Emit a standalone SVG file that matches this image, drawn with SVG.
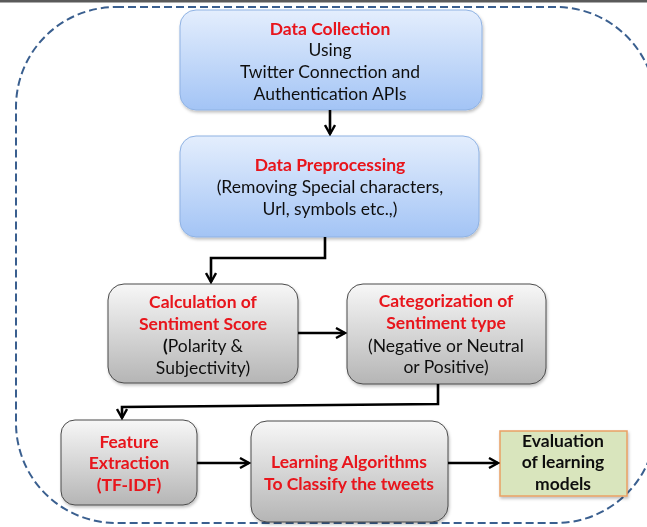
<svg xmlns="http://www.w3.org/2000/svg" width="647" height="527" viewBox="0 0 647 527">
<defs>
<linearGradient id="gBlue" x1="0" y1="0" x2="0" y2="1">
<stop offset="0" stop-color="#e4eefd"/>
<stop offset="1" stop-color="#a3c4f5"/>
</linearGradient>
<linearGradient id="gGray" x1="0" y1="0" x2="0" y2="1">
<stop offset="0" stop-color="#f7f7f7"/>
<stop offset="1" stop-color="#b5b5b5"/>
</linearGradient>
<marker id="arr" viewBox="0 0 12 12" refX="10.5" refY="6" markerWidth="12" markerHeight="12" markerUnits="userSpaceOnUse" orient="auto">
<path d="M1.5,1 L10.5,6 L1.5,11" fill="none" stroke="#000" stroke-width="2.4"/>
</marker>
<filter id="sh" x="-10%" y="-10%" width="130%" height="130%">
<feDropShadow dx="1" dy="2" stdDeviation="1.5" flood-color="#000" flood-opacity="0.25"/>
</filter>
</defs>
<style>
text{font-family:Lato,"Open Sans","Liberation Sans",sans-serif;font-size:17.5px;text-anchor:middle;fill:#111}
.r{fill:#e8121a;font-weight:bold}
.b{font-weight:bold}
.blue{fill:url(#gBlue);stroke:#8fb2e3;stroke-width:1}
.gray{fill:url(#gGray);stroke:#4a4a4a;stroke-width:1}
.green{fill:#d9e5bd;stroke:#e9a064;stroke-width:1.5}
.c{fill:none;stroke:#000;stroke-width:2.6;marker-end:url(#arr)}
</style>
<rect x="0" y="0" width="647" height="527" fill="#fff"/>
<rect x="0" y="0" width="647" height="2.5" fill="#5a5a5a"/>
<rect x="16" y="7" width="640" height="516" rx="100" ry="100" fill="none" stroke="#3a5f8f" stroke-width="2" stroke-dasharray="8,4"/>

<g id="n1" filter="url(#sh)">
<rect class="blue" x="180" y="10" width="302" height="100" rx="16"/>
<text class="r" x="330" y="35">Data Collection</text>
<text x="330" y="56">Using</text>
<text x="330" y="78">Twitter Connection and</text>
<text x="330" y="100">Authentication APIs</text>
</g>
<g id="n2" filter="url(#sh)">
<rect class="blue" x="180" y="136" width="299" height="101" rx="16"/>
<text class="r" x="330" y="171">Data Preprocessing</text>
<text x="330" y="193">(Removing Special characters,</text>
<text x="330" y="215">Url, symbols etc.,)</text>
</g>
<g id="n3" filter="url(#sh)">
<rect class="gray" x="108" y="284" width="190" height="99" rx="16"/>
<text class="r" x="203" y="308">Calculation of</text>
<text class="r" x="203" y="330">Sentiment Score</text>
<text x="203" y="352"><tspan class="b">(</tspan>Polarity &amp;</text>
<text x="203" y="374">Subjectivity)</text>
</g>
<g id="n4" filter="url(#sh)">
<rect class="gray" x="347" y="284" width="199" height="100" rx="16"/>
<text class="r" x="446" y="307">Categorization of</text>
<text class="r" x="446" y="329">Sentiment type</text>
<text x="446" y="352">(Negative or Neutral</text>
<text x="446" y="373">or Positive)</text>
</g>
<g id="n5" filter="url(#sh)">
<rect class="gray" x="61" y="420" width="136" height="85" rx="14"/>
<text class="r" x="129" y="448">Feature</text>
<text class="r" x="129" y="469">Extraction</text>
<text class="r" x="129" y="491">(TF-IDF)</text>
</g>
<g id="n6" filter="url(#sh)">
<rect class="gray" x="251" y="421" width="197" height="101" rx="16"/>
<text class="r" x="349" y="468">Learning Algorithms</text>
<text class="r" x="349" y="490">To Classify the tweets</text>
</g>
<g id="n7" filter="url(#sh)">
<rect class="green" x="500" y="431" width="127" height="65"/>
<text class="b" x="563" y="447">Evaluation</text>
<text class="b" x="563" y="468">of learning</text>
<text class="b" x="563" y="490">models</text>
</g>

<g id="connectors">
<path class="c" d="M330,110 V134"/>
<path class="c" d="M325,237 V258 H211 V282"/>
<path class="c" d="M298,333 H345"/>
<path class="c" d="M438,384 V404 L122,407 V418"/>
<path class="c" d="M197,463 H249"/>
<path class="c" d="M448,463 H498"/>
</g>
</svg>
